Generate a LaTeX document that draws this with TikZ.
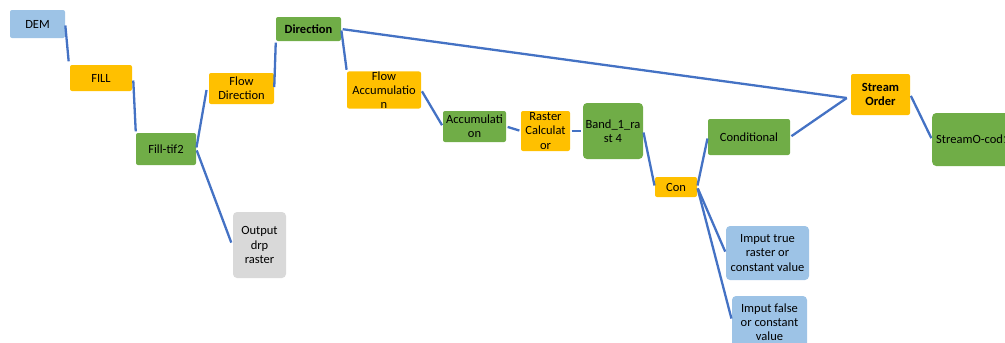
\documentclass[tikz,border=0pt]{standalone}
\usepackage{fontspec}
\setmainfont{Carlito}
\usetikzlibrary{calc}
\definecolor{cblue}{HTML}{9DC3E6}
\definecolor{corange}{HTML}{FFC000}
\definecolor{cgreen}{HTML}{70AD47}
\definecolor{cgray}{HTML}{D9D9D9}
\definecolor{cline}{HTML}{4472C4}
\begin{document}
\begin{tikzpicture}[x=1pt,y=-1pt,
  box/.style={rounded corners=2pt, align=center, inner sep=0pt, text=black,
    font=\fontsize{12.5}{14.2}\selectfont},
  bbox/.style={box, font=\fontsize{12.5}{14.2}\selectfont\bfseries},
  rbox/.style={box, rounded corners=4pt},
  conn/.style={draw=cline, line width=2.3pt, shorten <=1.5pt, shorten >=1.5pt}]
\clip (0,0) rectangle (1005,343);
\useasboundingbox (0,0) rectangle (1005,343);
% nodes
\node[box, fill=cblue, minimum width=55pt, minimum height=28pt] (dem) at (37.5,24) {DEM};
\node[box, fill=corange, minimum width=62pt, minimum height=26pt] (fill) at (101,78) {FILL};
\node[box, fill=cgreen, minimum width=60pt, minimum height=32pt] (filltif) at (166,149) {Fill-tif2};
\node[box, fill=corange, minimum width=65pt, minimum height=31pt] (flowdir) at (241.5,88.5) {Flow\\Direction};
\node[bbox, fill=cgreen, minimum width=65pt, minimum height=24pt] (direction) at (308.5,29) {Direction};
\node[box, fill=corange, minimum width=74pt, minimum height=36pt] (flowacc) at (384,90) {Flow\\Accumulatio\\n};
\node[box, fill=cgreen, minimum width=63pt, minimum height=31pt] (accum) at (474.5,126.5) {Accumulati\\on};
\node[box, fill=corange, minimum width=49pt, minimum height=40pt] (raster) at (545.5,131) {Raster\\Calculat\\or};
\node[rbox, fill=cgreen, minimum width=60pt, minimum height=56pt] (band) at (613,131) {Band\_1\_ra\\st 4};
\node[box, fill=corange, minimum width=42pt, minimum height=20pt] (con) at (676,187) {Con};
\node[box, fill=cgreen, minimum width=82pt, minimum height=36pt] (conditional) at (749,137) {Conditional};
\node[bbox, fill=corange, minimum width=59pt, minimum height=41pt] (stream) at (880.5,94.5) {Stream\\Order};
\node[rbox, fill=cgreen, anchor=west, minimum height=53pt, text width=80pt, align=left, inner xsep=4pt] (streamo) at (932,139.5) {StreamO-cod1};
\node[rbox, fill=cgray, minimum width=53pt, minimum height=66pt] (output) at (259.5,245) {Output\\drp\\raster};
\node[rbox, fill=cblue, minimum width=83pt, minimum height=54pt] (imtrue) at (767.5,253) {Imput true\\raster or\\constant value};
\node[rbox, fill=cblue, minimum width=75pt, minimum height=52pt] (imfalse) at (769.5,322) {Imput false\\or constant\\value};
% connectors
\coordinate (sjoin) at ($(stream.west)+(-4,3.5)$);
\draw[conn] (dem.east) -- ($(fill.north west)+(-1,-2)$);
\draw[conn] ($(fill.east)+(1,1)$) -- (filltif.north west);
\draw[conn] (filltif.east) -- ($(flowdir.west)+(-2,0)$);
\draw[conn] (filltif.east) -- ($(output.west)+(-1,-1)$);
\draw[conn] (flowdir.east) -- (direction.south west);
\draw[conn] (direction.east) -- (flowacc.north west);
\draw[conn, shorten >=0pt] (direction.east) -- (sjoin);
\draw[conn] (flowacc.east) -- (accum.west);
\draw[conn] (accum.east) -- (raster.west);
\draw[conn] (raster.east) -- (band.west);
\draw[conn] (band.east) -- (con.west);
\draw[conn] (con.east) -- (conditional.west);
\draw[conn] (con.east) -- (imtrue.west);
\draw[conn] (con.east) -- ($(imfalse.west)+(0,-2)$);
\draw[conn, shorten >=0pt] (conditional.east) -- (sjoin);
\draw[conn] (stream.east) -- (streamo.west);
\end{tikzpicture}
\end{document}
